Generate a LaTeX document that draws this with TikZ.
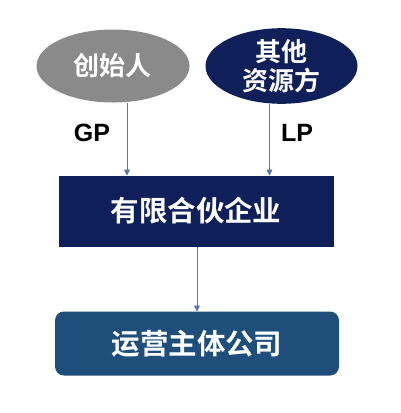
\documentclass[tikz,border=0pt]{standalone}
\usepackage{fontspec}
\setmainfont{Liberation Sans}
\newfontfamily\cjk{Noto Sans CJK SC Bold}
\usetikzlibrary{positioning,shapes.geometric,arrows.meta}
\definecolor{stonegrey}{HTML}{8A8A8A}
\definecolor{deepnavy}{HTML}{0E1F5A}
\definecolor{steelblue}{HTML}{1F4E7A}
\definecolor{flowblue}{HTML}{5574B0}
\tikzset{
  party/.style={ellipse, inner sep=0pt, outer sep=0pt, text=white, align=center,
    font=\cjk\fontsize{26}{29}\selectfont},
  entity/.style={rectangle, inner sep=0pt, outer sep=0pt, text=white,
    font=\cjk\fontsize{28.5}{32}\selectfont},
  flow/.style={draw=flowblue, line width=0.9pt, -{Triangle[width=6pt,length=6pt]}},
  tag/.style={font=\bfseries\fontsize{25}{28}\selectfont}
}
\begin{document}
\begin{tikzpicture}[x=1pt,y=-1pt]
            \useasboundingbox (0,0) rectangle (401,413);
            \node (founder) [party, fill=stonegrey, minimum width=153pt, minimum height=73pt] at (113,66) {创始人};
            \node (others) [party, fill=deepnavy, minimum width=152pt, minimum height=75pt, right=16pt of founder] {其他\\资源方};
            \node (fund) [entity, fill=deepnavy, minimum width=275pt, minimum height=71pt] at (196,211) {有限合伙企业};
            \node (company) [entity, fill=steelblue, rounded corners=9pt, minimum width=284pt, minimum height=64pt, below=65pt of fund.south, anchor=north, xshift=1pt] {运营主体公司};
            \node (gp) [tag] at (92,133) {GP};
            \node (lp) [tag] at (297,133) {LP};
            \draw[flow] ([xshift=14pt]founder.south) -- ([xshift=14pt]founder.south |- fund.north);
            \draw[flow] ([xshift=-12pt]others.south) -- ([xshift=-12pt]others.south |- fund.north);
            \draw[flow] ([xshift=1pt]fund.south) -- (company.north);
        \end{tikzpicture}
\end{document}
